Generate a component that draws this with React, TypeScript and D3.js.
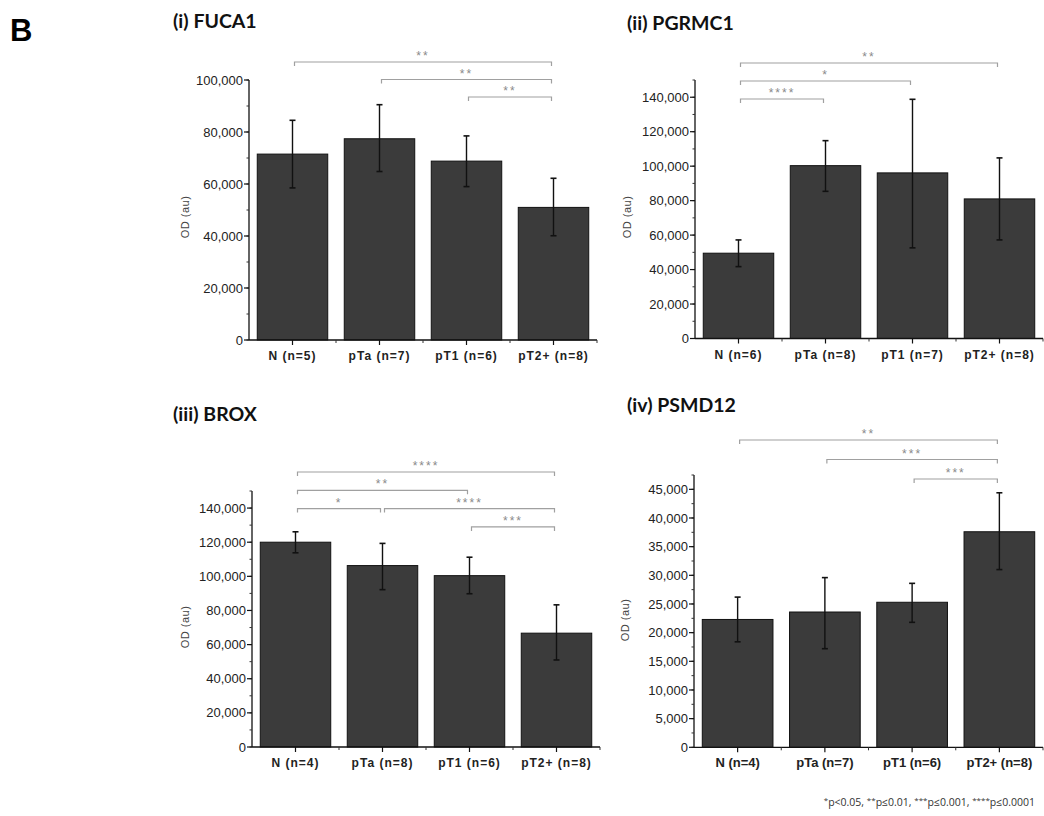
import { useEffect, useRef } from 'react';
import * as d3 from 'd3';

// (i) FUCA1
const fucaLabels = ['N (n=5)', 'pTa (n=7)', 'pT1 (n=6)', 'pT2+ (n=8)'];
const fucaMean = [71500, 77400, 68800, 51000];
const fucaHi = [84500, 90500, 78500, 62200];
const fucaLo = [58500, 64800, 59000, 40100];
const fucaTicks = [0, 20000, 40000, 60000, 80000, 100000];
const fucaSig = [
  { a: 0, b: 3, level: 0, s: '**' },
  { a: 1, b: 3, level: 1, s: '**' },
  { a: 2, b: 3, level: 2, s: '**' },
];

// (ii) PGRMC1
const pgrLabels = ['N  (n=6)', 'pTa (n=8)', 'pT1 (n=7)', 'pT2+ (n=8)'];
const pgrMean = [49500, 100300, 96100, 81000];
const pgrHi = [57200, 114800, 138800, 104800];
const pgrLo = [41700, 85400, 52600, 57200];
const pgrTicks = [0, 20000, 40000, 60000, 80000, 100000, 120000, 140000];
const pgrSig = [
  { a: 0, b: 3, level: 0, s: '**' },
  { a: 0, b: 2, level: 1, s: '*' },
  { a: 0, b: 1, level: 2, s: '****' },
];

// (iii) BROX
const broxLabels = ['N (n=4)', 'pTa (n=8)', 'pT1 (n=6)', 'pT2+ (n=8)'];
const broxMean = [120000, 106300, 100400, 66700];
const broxHi = [126100, 119300, 111200, 83300];
const broxLo = [113800, 92200, 89800, 51000];
const broxTicks = [0, 20000, 40000, 60000, 80000, 100000, 120000, 140000];
const broxSig = [
  { a: 0, b: 3, level: 0, s: '****' },
  { a: 0, b: 2, level: 1, s: '**' },
  { a: 0, b: 1, level: 2, s: '*' },
  { a: 1, b: 3, level: 2, s: '****' },
  { a: 2, b: 3, level: 3, s: '***' },
];

// (iv) PSMD12
const psmdLabels = ['N (n=4)', 'pTa (n=7)', 'pT1 (n=6)', 'pT2+ (n=8)'];
const psmdMean = [22300, 23600, 25300, 37600];
const psmdHi = [26200, 29600, 28600, 44400];
const psmdLo = [18400, 17200, 21800, 31000];
const psmdTicks = [0, 5000, 10000, 15000, 20000, 25000, 30000, 35000, 40000, 45000];
const psmdSig = [
  { a: 0, b: 3, level: 0, s: '**' },
  { a: 1, b: 3, level: 1, s: '***' },
  { a: 2, b: 3, level: 2, s: '***' },
];

const panels = [
  {
    title: '(i) FUCA1', tx: 173, ty: 28, labels: fucaLabels, mean: fucaMean, hi: fucaHi, lo: fucaLo,
    ticks: fucaTicks, minor: 10000, max: 100000, sig: fucaSig,
    x0: 249, x1: 597, yTop: 80, yBot: 340, sigY: 62, sigStep: 17.5, odX: 185, odY: 217, labelStyle: 'spaced',
  },
  {
    title: '(ii) PGRMC1', tx: 627, ty: 30, labels: pgrLabels, mean: pgrMean, hi: pgrHi, lo: pgrLo,
    ticks: pgrTicks, minor: 10000, max: 150000, sig: pgrSig,
    x0: 695, x1: 1043, yTop: 80, yBot: 338.5, sigY: 63, sigStep: 18, odX: 627, odY: 217, labelStyle: 'spaced',
  },
  {
    title: '(iii) BROX', tx: 173, ty: 421, labels: broxLabels, mean: broxMean, hi: broxHi, lo: broxLo,
    ticks: broxTicks, minor: 10000, max: 150000, sig: broxSig,
    x0: 252, x1: 600, yTop: 491, yBot: 747, sigY: 472, sigStep: 18.3, odX: 185, odY: 627, labelStyle: 'spaced',
  },
  {
    title: '(iv) PSMD12', tx: 627, ty: 412, labels: psmdLabels, mean: psmdMean, hi: psmdHi, lo: psmdLo,
    ticks: psmdTicks, minor: 2500, max: 47500, sig: psmdSig,
    x0: 694, x1: 1043, yTop: 475, yBot: 747.3, sigY: 440, sigStep: 19.5, odX: 625, odY: 620, labelStyle: 'plain',
  },
];

const AXIS_FONT = "'Liberation Sans', Arial, sans-serif";
const TITLE_FONT = "Lato, 'Open Sans', sans-serif";

export default function App() {
  const ref = useRef<SVGSVGElement>(null);

  useEffect(() => {
    const svg = d3.select(ref.current);
    svg.selectAll('*').remove();

    svg.append('rect').attr('width', 1044).attr('height', 816).attr('fill', '#fff');

    svg.append('text')
      .attr('x', 10).attr('y', 41)
      .attr('font-family', AXIS_FONT).attr('font-weight', 'bold').attr('font-size', 31)
      .text('B');

    panels.forEach(p => {
      const g = svg.append('g');
      const x = d3.scaleBand<number>()
        .domain(d3.range(p.labels.length))
        .range([p.x0, p.x1])
        .paddingInner(0.19)
        .paddingOuter(0.095);
      const y = d3.scaleLinear().domain([0, p.max]).range([p.yBot, p.yTop]);

      // title
      g.append('text')
        .attr('x', p.tx).attr('y', p.ty)
        .attr('font-family', TITLE_FONT).attr('font-weight', 'bold').attr('font-size', 19.5)
        .attr('fill', '#111')
        .text(p.title);

      // bars
      g.selectAll('rect.bar')
        .data(p.mean)
        .join('rect')
        .attr('class', 'bar')
        .attr('x', (_, i) => x(i)!)
        .attr('width', x.bandwidth())
        .attr('y', d => y(d))
        .attr('height', d => y(0) - y(d))
        .attr('fill', '#3b3b3b')
        .attr('stroke', '#111')
        .attr('stroke-width', 1);

      // error bars
      const cx = (i: number) => x(i)! + x.bandwidth() / 2;
      p.mean.forEach((_, i) => {
        g.append('line')
          .attr('x1', cx(i)).attr('x2', cx(i))
          .attr('y1', y(p.lo[i])).attr('y2', y(p.hi[i]))
          .attr('stroke', '#111').attr('stroke-width', 1.4);
        [p.lo[i], p.hi[i]].forEach(v => {
          g.append('line')
            .attr('x1', cx(i) - 3).attr('x2', cx(i) + 3)
            .attr('y1', y(v)).attr('y2', y(v))
            .attr('stroke', '#111').attr('stroke-width', 1.6);
        });
      });

      // y axis
      const yAxis = g.append('g').attr('transform', `translate(${p.x0},0)`);
      yAxis.append('line')
        .attr('x1', 0).attr('x2', 0).attr('y1', p.yTop).attr('y2', p.yBot)
        .attr('stroke', '#111').attr('stroke-width', 1.3);
      const minorTicks = d3.range(0, p.max + 1, p.minor);
      yAxis.selectAll('line.minor')
        .data(minorTicks)
        .join('line')
        .attr('class', 'minor')
        .attr('x1', -2.5).attr('x2', 0)
        .attr('y1', d => y(d)).attr('y2', d => y(d))
        .attr('stroke', '#333').attr('stroke-width', 1);
      yAxis.selectAll('line.major')
        .data(p.ticks)
        .join('line')
        .attr('class', 'major')
        .attr('x1', -5).attr('x2', 0)
        .attr('y1', d => y(d)).attr('y2', d => y(d))
        .attr('stroke', '#111').attr('stroke-width', 1.2);
      const fmt = d3.format(',');
      yAxis.selectAll('text')
        .data(p.ticks)
        .join('text')
        .attr('x', -6).attr('y', d => y(d))
        .attr('dy', '0.35em')
        .attr('text-anchor', 'end')
        .attr('font-family', AXIS_FONT).attr('font-size', 13)
        .attr('fill', '#222')
        .text(d => fmt(d));

      // x axis
      const xAxis = g.append('g').attr('transform', `translate(0,${p.yBot})`);
      xAxis.append('line')
        .attr('x1', p.x0).attr('x2', p.x1).attr('y1', 0).attr('y2', 0)
        .attr('stroke', '#111').attr('stroke-width', 1.3);
      xAxis.selectAll('line.ctick')
        .data(p.labels)
        .join('line')
        .attr('class', 'ctick')
        .attr('x1', (_, i) => cx(i)).attr('x2', (_, i) => cx(i))
        .attr('y1', 0).attr('y2', 5)
        .attr('stroke', '#111').attr('stroke-width', 1.2);
      xAxis.selectAll('line.btick')
        .data(d3.range(1, p.labels.length + 1))
        .join('line')
        .attr('class', 'btick')
        .attr('x1', d => x(d - 1)! + x.step() - x.step() * 0.095)
        .attr('x2', d => x(d - 1)! + x.step() - x.step() * 0.095)
        .attr('y1', 0).attr('y2', 3)
        .attr('stroke', '#333').attr('stroke-width', 1);
      xAxis.selectAll('text')
        .data(p.labels)
        .join('text')
        .attr('x', (_, i) => cx(i))
        .attr('y', 20)
        .attr('text-anchor', 'middle')
        .attr('font-family', AXIS_FONT)
        .attr('font-weight', 'bold')
        .attr('font-size', p.labelStyle === 'plain' ? 13 : 12)
        .attr('letter-spacing', p.labelStyle === 'plain' ? 0 : 1)
        .attr('fill', '#222')
        .text(d => d);

      // y label
      g.append('text')
        .attr('transform', `translate(${p.odX},${p.odY}) rotate(-90)`)
        .attr('text-anchor', 'middle')
        .attr('dy', '0.35em')
        .attr('font-family', AXIS_FONT).attr('font-size', 11)
        .attr('letter-spacing', 0.5)
        .attr('fill', '#444')
        .text('OD (au)');

      // significance brackets
      p.sig.forEach(s => {
        const by = p.sigY + s.level * p.sigStep;
        const xa = cx(s.a) + 2;
        const xb = cx(s.b) - 2;
        g.append('path')
          .attr('d', `M${xa},${by + 4}V${by}H${xb}V${by + 4}`)
          .attr('fill', 'none')
          .attr('stroke', '#a0a0a0')
          .attr('stroke-width', 1.2);
        g.append('text')
          .attr('x', (xa + xb) / 2).attr('y', by - 2)
          .attr('text-anchor', 'middle')
          .attr('font-family', AXIS_FONT).attr('font-size', 12)
          .attr('letter-spacing', 2)
          .attr('fill', '#8a8a8a')
          .text(s.s);
      });
    });

    // footnote
    const foot = svg.append('text')
      .attr('x', 1035).attr('y', 806)
      .attr('text-anchor', 'end')
      .attr('font-family', "'Open Sans', sans-serif").attr('font-size', 10.5)
      .attr('fill', '#333');
    const parts = [['*', 'p<0.05, '], ['**', 'p≤0.01, '], ['***', 'p≤0.001, '], ['****', 'p≤0.0001']];
    parts.forEach(([st, t]) => {
      foot.append('tspan').attr('font-size', 8).attr('dy', -3).text(st);
      foot.append('tspan').attr('dy', 3).text(t);
    });
  }, []);

  return (
    <svg
      ref={ref}
      width={1044}
      height={816}
      style={{ position: 'absolute', left: 0, top: 0 }}
    />
  );
}
